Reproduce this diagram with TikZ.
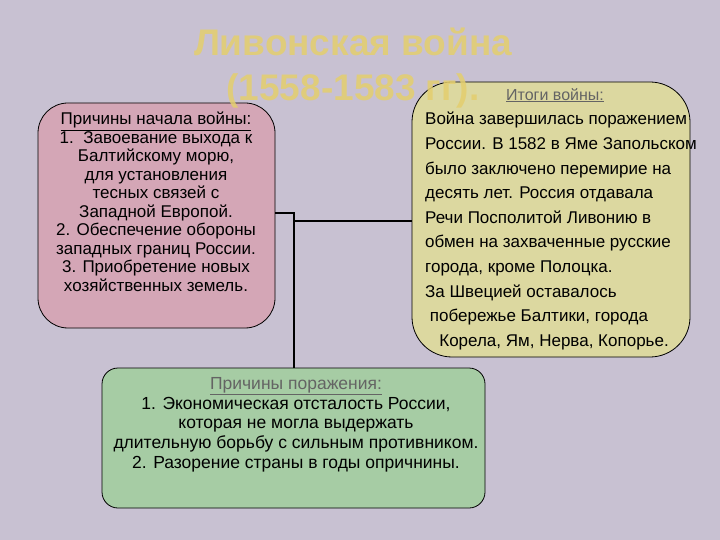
\documentclass[tikz,border=0pt]{standalone}
\usepackage{fontspec}
\setmainfont{Liberation Sans}
\definecolor{bg}{RGB}{200,193,210}
\definecolor{pinkbox}{RGB}{212,166,182}
\definecolor{yelbox}{RGB}{220,216,160}
\definecolor{grnbox}{RGB}{166,204,164}
\definecolor{ttl}{RGB}{228,206,110}
\definecolor{hdr}{RGB}{100,100,100}
\begin{document}
\begin{tikzpicture}[x=1pt,y=-1pt,
  box/.style={draw=black,line width=0.8pt},
  txt/.style={font=\fontsize{17}{18.5}\selectfont,align=center,inner sep=0},
  conn/.style={draw=black,line width=1.4pt}]
\fill[bg] (0,0) rectangle (720,540);
\useasboundingbox (0,0) rectangle (720,540);
\draw[box,fill=pinkbox,rounded corners=30] (38,103) rectangle (275,328);
\draw[box,fill=yelbox,rounded corners=40] (412,82) rectangle (690,357);
\draw[box,fill=grnbox,rounded corners=16] (102,368) rectangle (485,508);
\coordinate (lA) at (275,213);
\coordinate (j1) at (294,213);
\coordinate (j2) at (294,221);
\coordinate (rA) at (412,221);
\coordinate (gA) at (294,368);
\draw[conn] (lA) -- (j1) -- (gA);
\draw[conn] (j2) -- (rA);
\node[txt,anchor=north] (left) at (156,112) {\underline{Причины начала войны:}\\
1.\ \ Завоевание выхода к\\ Балтийскому морю,\\ для установления\\ тесных связей с\\
Западной Европой.\\ 2. Обеспечение обороны\\ западных границ России.\\
3. Приобретение новых\\ хозяйственных земель.};
\node[txt,anchor=north,text=hdr,font=\fontsize{16}{18}\selectfont] (rh) at (555,88) {\underline{Итоги войны:}};
\node[txt,anchor=north west,align=left,font=\fontsize{17}{24.6}\selectfont] (right) at (425,112) {Война завершилась поражением\\
России. В 1582 в Яме Запольском\\ было заключено перемирие на\\ десять лет. Россия отдавала\\
Речи Посполитой Ливонию в\\ обмен на захваченные русские\\ города, кроме Полоцка.\\
За Швецией оставалось\\ \ побережье Балтики, города\\ \ \ \ Корела, Ям, Нерва, Копорье.};
\node[txt,anchor=north,font=\fontsize{17.5}{19.8}\selectfont] (green) at (296,377) {\textcolor{hdr}{\underline{Причины поражения:}}\\
1. Экономическая отсталость России,\\ которая не могла выдержать\\
длительную борьбу с сильным противником.\\ 2. Разорение страны в годы опричнины.};
\node[font=\bfseries\fontsize{37}{45}\selectfont,text=ttl,opacity=0.85,align=center,inner sep=0] (title) at (353,68) {Ливонская война\\(1558-1583 гг).};
\end{tikzpicture}
\end{document}
